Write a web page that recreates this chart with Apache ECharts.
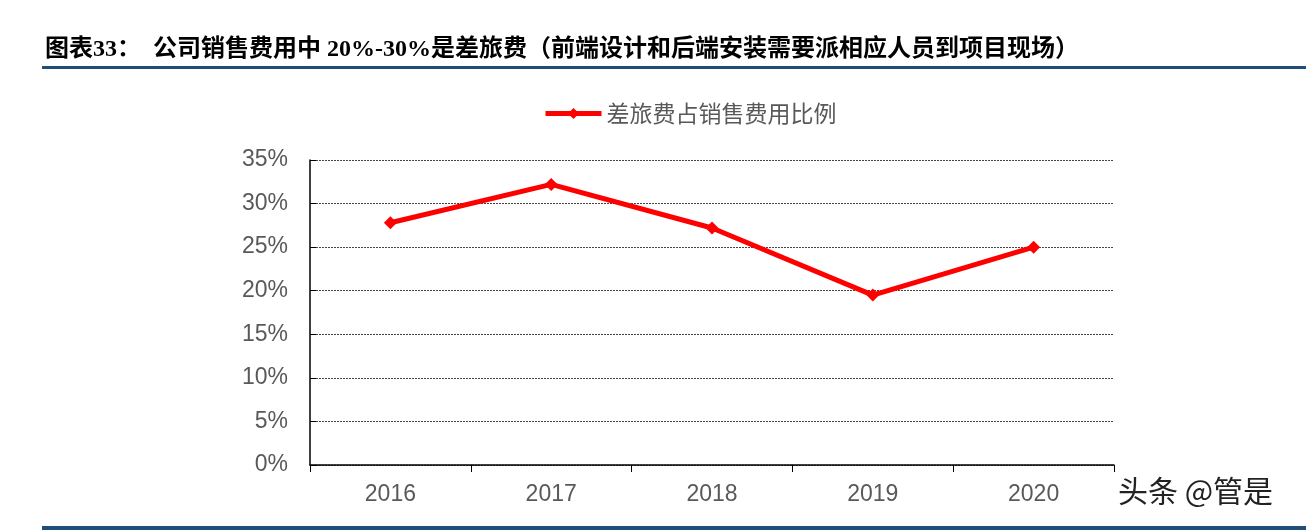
<!DOCTYPE html>
<html>
<head>
<meta charset="utf-8">
<script src="https://cdn.jsdelivr.net/npm/echarts@6/dist/echarts.min.js"></script>
<style>
  html, body { margin: 0; padding: 0; background: #fff; }
  #chart { width: 1306px; height: 530px; }
</style>
</head>
<body>
<div id="chart"></div>
<script>
// 差旅费占销售费用比例 (%)
var years = ['2016', '2017', '2018', '2019', '2020']
var travelRatio = [27.8, 32.2, 27.2, 19.5, 25.0]
var yTicks = [0, 5, 10, 15, 20, 25, 30, 35]

var myChart = echarts.init(document.getElementById('chart'))

var option = {
  animation: false,
  backgroundColor: '#fff',
  title: {
    text: '图表33：　公司销售费用中 20%-30%是差旅费（前端设计和后端安装需要派相应人员到项目现场）',
    left: 40,
    top: 33,
    textStyle: {
      fontFamily: '"Liberation Serif", "Noto Sans CJK SC"',
      fontWeight: 'bold',
      fontSize: 24,
      color: '#000'
    }
  },
  legend: {
    data: ['差旅费占销售费用比例'],
    left: 538,
    top: 97,
    itemWidth: 56,
    itemHeight: 14,
    itemGap: 4,
    lineStyle: { width: 5 },
    textStyle: {
      fontFamily: '"Noto Sans CJK SC"',
      fontSize: 23,
      color: '#595959'
    }
  },
  grid: {
    left: 310,
    right: 192,
    top: 160,
    bottom: 65,
    containLabel: false
  },
  xAxis: {
    type: 'category',
    data: years,
    boundaryGap: true,
    axisLine: { lineStyle: { color: '#000', width: 1.5 } },
    axisTick: { show: true, length: 7, lineStyle: { color: '#000' } },
    axisLabel: {
      margin: 18,
      fontFamily: '"Liberation Sans", Arial',
      fontSize: 23,
      color: '#595959'
    },
    splitLine: { show: false }
  },
  yAxis: {
    type: 'value',
    min: 0,
    max: 35,
    interval: 5,
    axisLine: { show: true, lineStyle: { color: '#000', width: 1.5 } },
    axisTick: { show: true, inside: true, length: 6, lineStyle: { color: '#000' } },
    axisLabel: {
      margin: 22,
      fontFamily: '"Liberation Sans", Arial',
      fontSize: 23,
      color: '#595959',
      formatter: function (v) {
        return yTicks.indexOf(v) >= 0 ? v + '%' : ''
      }
    },
    splitLine: {
      lineStyle: { type: [2, 1], color: '#444', width: 1 }
    }
  },
  series: [{
    name: '差旅费占销售费用比例',
    type: 'line',
    data: travelRatio,
    symbol: 'diamond',
    symbolSize: 13,
    lineStyle: { color: '#FF0000', width: 5 },
    itemStyle: { color: '#FF0000' }
  }],
  graphic: [
    {
      type: 'rect',
      shape: { x: 42, y: 66, width: 1264, height: 3 },
      style: { fill: '#1F4E79' }
    },
    {
      type: 'rect',
      shape: { x: 42, y: 526, width: 1264, height: 4 },
      style: { fill: '#1F4E79' }
    },
    {
      type: 'text',
      left: 1118,
      top: 476,
      style: {
        text: '头条 @管是',
        fontFamily: '"Noto Sans CJK SC"',
        fontSize: 30,
        fill: '#222',
        shadowColor: 'rgba(0,0,0,0.35)',
        shadowBlur: 2,
        shadowOffsetX: 1,
        shadowOffsetY: 1
      }
    }
  ]
}

myChart.setOption(option)
window.onresize = function () {
  myChart.resize()
}
</script>
</body>
</html>
